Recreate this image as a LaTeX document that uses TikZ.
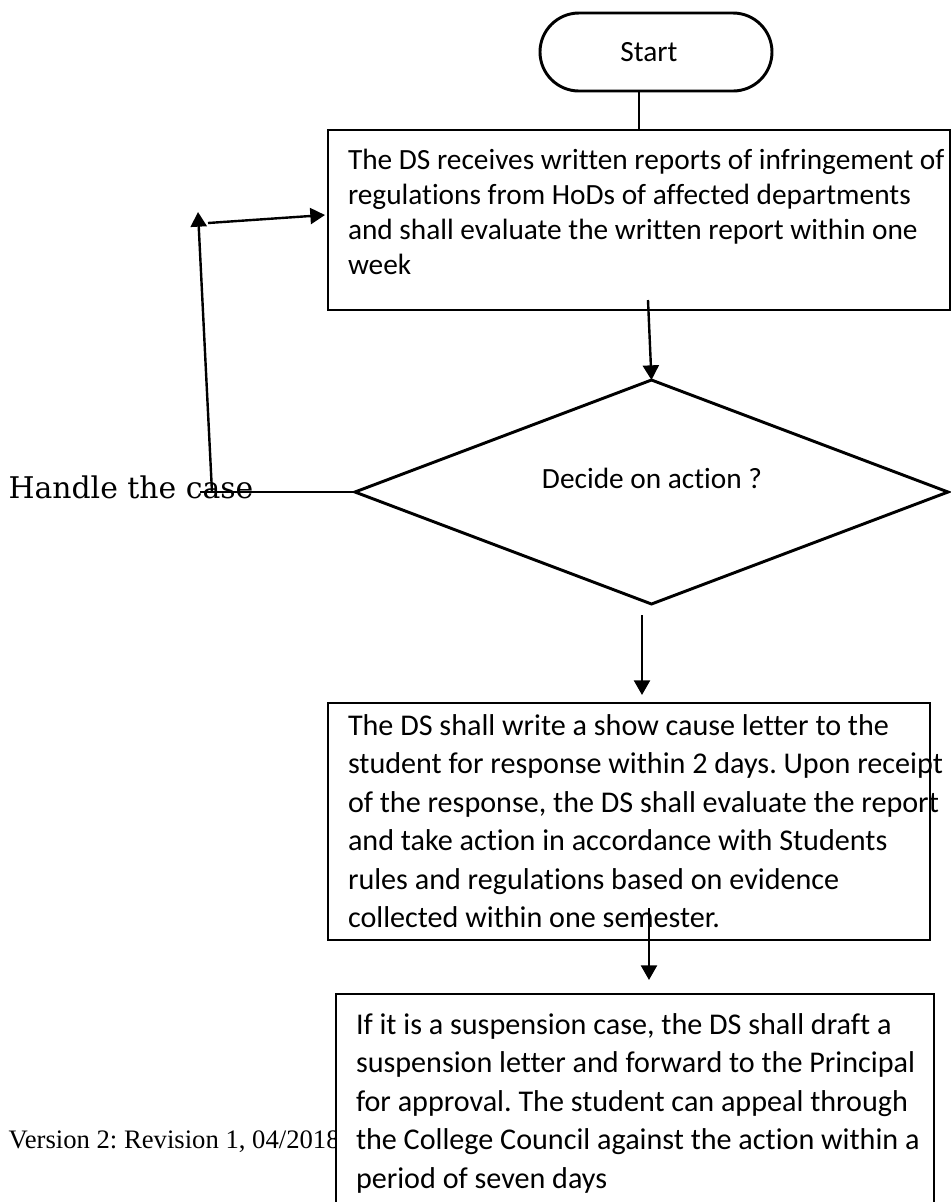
\documentclass[tikz,border=0pt]{standalone}
\usepackage{fontspec}
\setmainfont{Carlito}[Ligatures={NoCommon}]
\newfontfamily\handlefont{DejaVu Serif}
\newfontfamily\footfont{Liberation Serif}
\usetikzlibrary{arrows.meta,shapes.geometric,shapes.misc,calc}
\newlength\pxu
\setlength\pxu{0.375pt}
% text box body: width, height, top strut, font size, line pitch, lines
\newcommand\boxbody[6]{\parbox[t][#2\pxu][t]{#1\pxu}{\fontsize{#4}{#5}\selectfont\frenchspacing\raggedright\leftskip=20\pxu\rule{0pt}{#3\pxu}#6}}
\hfuzz=300pt
\hbadness=10000
\frenchspacing
\begin{document}
\begin{tikzpicture}[x=0.375pt,y=-0.375pt,
  font=\fontsize{11}{13.4}\selectfont,
  conn/.style={line width=0.9pt},
  arr/.style={conn,-{Triangle[length=5.5pt,width=6pt]}},
  textbox/.style={draw,line width=0.55pt,fill=white,rectangle,anchor=north west,inner sep=0pt,outer sep=0pt},
  terminal/.style={draw,rounded rectangle,line width=1.1pt,minimum width=87pt,minimum height=29.25pt,inner sep=0pt},
  decision/.style={draw,diamond,line width=1.1pt,minimum width=222.4pt,minimum height=84pt,inner sep=0pt,outer sep=0pt}]
\useasboundingbox (0,0) rectangle (951,1202);
\clip (0,0) rectangle (951,1202);

% start terminal
\node[terminal] (start) at (656,52) {\hspace*{-14\pxu}Start};

% first process box
\node[textbox] (b1) at (328,130) {\boxbody{622}{180}{39}{11}{13.2}{%
\mbox{The DS receives written reports of infringement of}\\
\mbox{regulations from HoDs of affected departments}\\
\mbox{and shall evaluate the written report within one}\\
\mbox{week}}};

% decision
\node[decision] (dec) at (651.5,492) {};
\node[inner sep=0pt] (dectext) at (652,478) {Decide on action ?};

% side label
\node[anchor=base west,inner sep=0pt,font=\handlefont\fontsize{11.2}{13}\selectfont] (handle) at (8,498) {Handle the case};

% footer line of the page
\node[anchor=base west,inner sep=0pt,font=\footfont\fontsize{10}{12}\selectfont] (foot) at (8,1148) {Version 2: Revision 1, 04/2018};

% second and third process boxes
\node[textbox] (b2) at (328,703) {\boxbody{602}{237}{32}{11.3}{14.45}{%
\mbox{The DS shall write a show cause letter to the}\\
\mbox{student for response within 2 days. Upon receipt}\\
\mbox{of the response, the DS shall evaluate the report}\\
\mbox{and take action in accordance with Students}\\
\mbox{rules and regulations based on evidence}\\
\mbox{collected within one semester.}}};
\node[textbox] (b3) at (336,994) {\boxbody{598}{300}{40}{11.3}{14.45}{%
\mbox{If it is a suspension case, the DS shall draft a}\\
\mbox{suspension letter and forward to the Principal}\\
\mbox{for approval. The student can appeal through}\\
\mbox{the College Council against the action within a}\\
\mbox{period of seven days}}};

% connector end points
\coordinate (a2) at (648,300);
\coordinate (hl) at (200,492);
\coordinate (v1) at (212,492);
\coordinate (v2) at (198,212);
\coordinate (r1) at (208,223);
\coordinate (r2) at ($(b1.west)+(-3,-5)$);
\coordinate (d1) at (642,615);
\coordinate (d2) at (642,695);
\coordinate (e1) at (649,908);
\coordinate (e2) at (649,980);

% connectors
\draw[conn] (start.south -| b1.north) -- (b1.north);
\draw[arr] (a2) -- (dec.north);
\draw[conn] (dec.west) -- (hl);
\draw[arr] (v1) -- (v2);
\draw[arr] (r1) -- (r2);
\draw[arr] (d1) -- (d2);
\draw[arr] (e1) -- (e2);
\end{tikzpicture}
\end{document}
